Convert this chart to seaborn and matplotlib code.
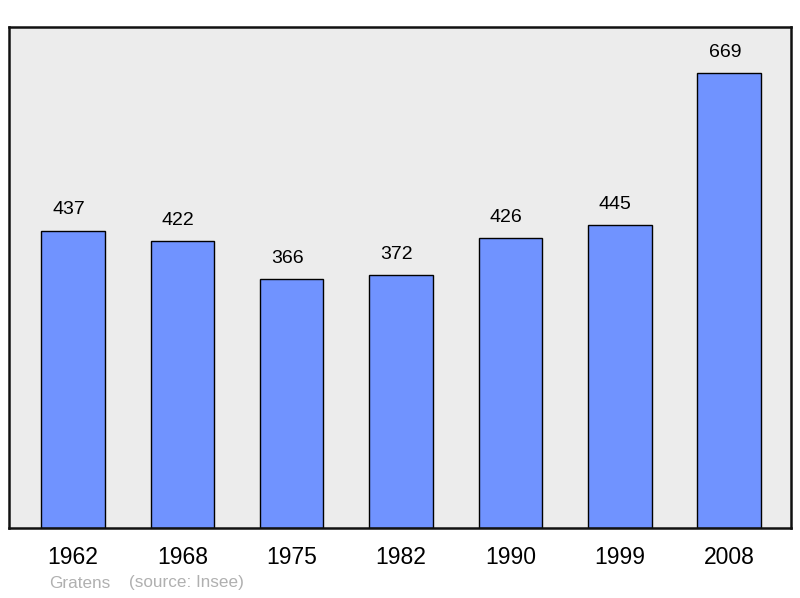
import matplotlib
matplotlib.use("Agg")
import matplotlib.pyplot as plt
import seaborn as sns
import pandas as pd

years = ["1962", "1968", "1975", "1982", "1990", "1999", "2008"]
population = [437, 422, 366, 372, 426, 445, 669]
commune = "Gratens"
source = "(source: Insee)"

sns.set_style("white")
plt.rcParams['font.family'] = ['Liberation Sans', 'DejaVu Sans']

df = pd.DataFrame({"year": years, "pop": population})

fig = plt.figure(figsize=(8, 5.98), dpi=100)
ax = fig.add_axes([9/800, 70/598, 782/800, 501/598])
ax.set_facecolor("#ececec")

sns.barplot(data=df, x="year", y="pop", ax=ax, color="#7093ff", saturation=1,
            width=0.58, edgecolor="black", linewidth=1.0)

ax.set_xlim(-0.585, 6.565)
ax.set_ylim(0, 737)
ax.set_xlabel("")
ax.set_ylabel("")
ax.set_yticks([])
ax.tick_params(axis="x", length=0, pad=13, labelsize=16.5, labelcolor="black")

for i, v in enumerate(population):
    ax.annotate(str(v), (i, v), xytext=(-3.2, 15.2), textcoords="offset points",
                ha="center", va="center", fontsize=14, color="black")

for s in ax.spines.values():
    s.set_visible(True)
    s.set_linewidth(1.8)
    s.set_color("#111111")

fig.text(49/800, 1 - 583/598, commune, ha="left", va="center", fontsize=12.3, color="#b0b0b0")
fig.text(129/800, 1 - 583/598, source, ha="left", va="center", fontsize=12.3, color="#b0b0b0")

fig.savefig("out.png", dpi=100, facecolor="white")
